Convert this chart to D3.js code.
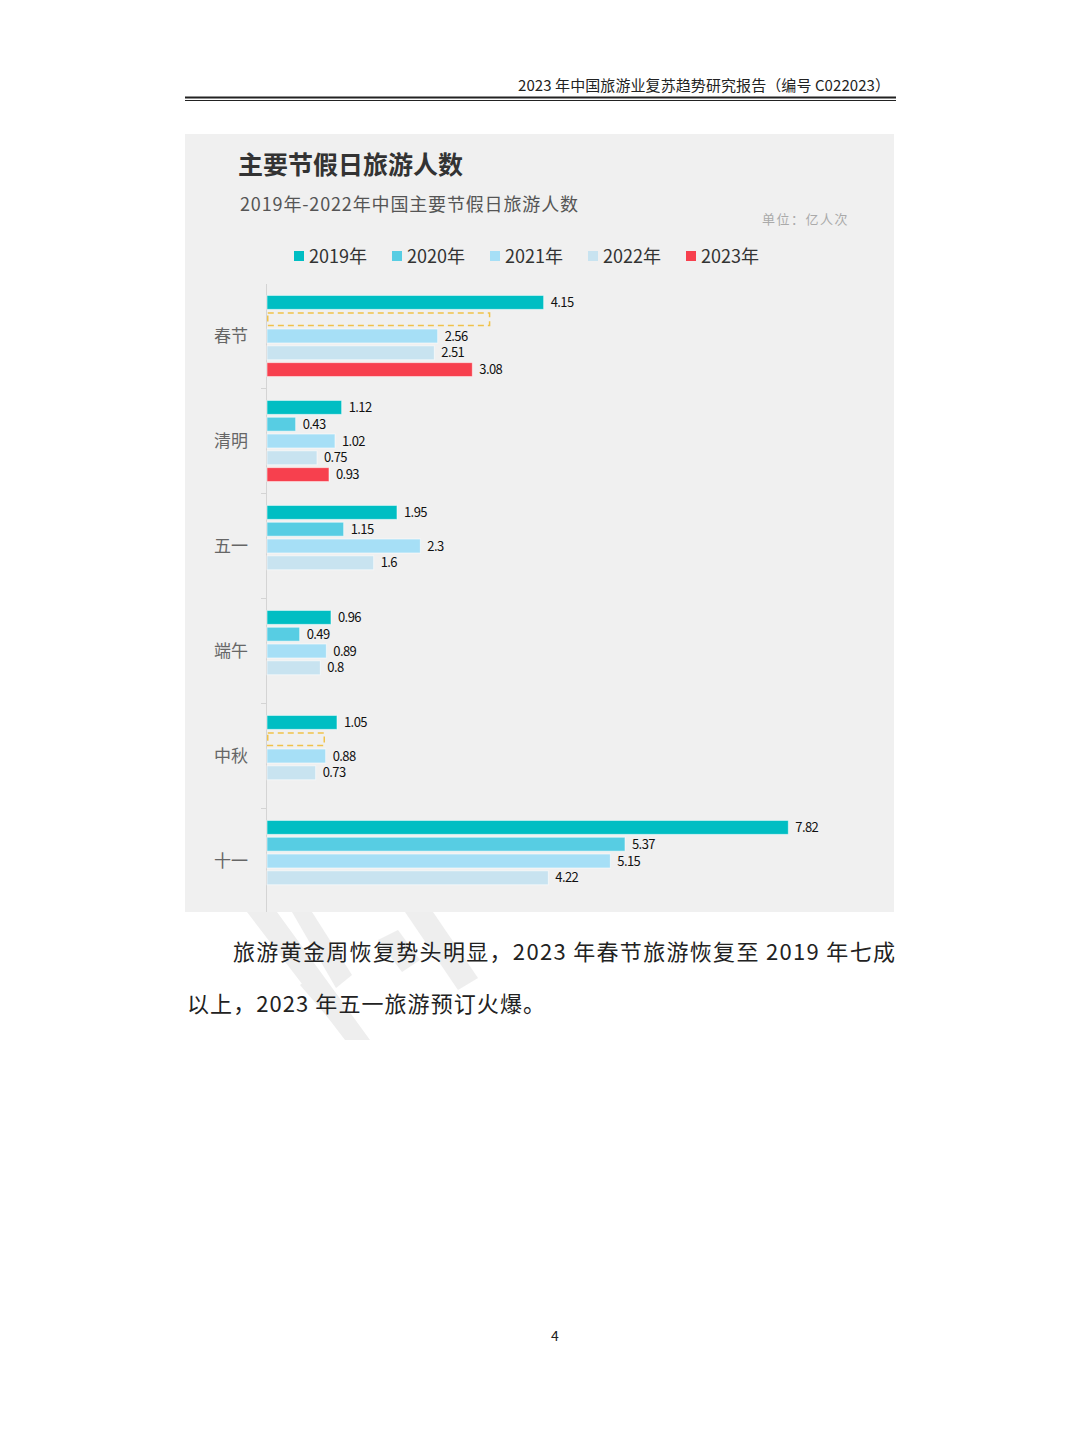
<!DOCTYPE html>
<html>
<head>
<meta charset="utf-8">
<script src="https://cdn.jsdelivr.net/npm/d3@7"></script>
<style>
  body { margin: 0; background: #fff; }
  text { font-family: "Noto Sans CJK SC", "Noto Sans", sans-serif; }
</style>
</head>
<body>
<div id="page"></div>
<script>
// chart data
const categories = ['春节', '清明', '五一', '端午', '中秋', '十一'];
const seriesNames = ['2019年', '2020年', '2021年', '2022年', '2023年'];
const v2019 = [4.15, 1.12, 1.95, 0.96, 1.05, 7.82];
const v2020 = [null, 0.43, 1.15, 0.49, null, 5.37];
const v2021 = [2.56, 1.02, 2.3, 0.89, 0.88, 5.15];
const v2022 = [2.51, 0.75, 1.6, 0.8, 0.73, 4.22];
const v2023 = [3.08, 0.93, null, null, null, null];
// dashed empty boxes drawn where 2020 is missing
const missing2020 = [3.35, null, null, null, 0.87, null];
const colors = ['#00bec3', '#57cde3', '#a6dff6', '#c8e3f0', '#f7404e'];

const allSeries = [v2019, v2020, v2021, v2022, v2023];

const svg = d3.select('#page').append('svg')
  .attr('width', 1080).attr('height', 1440);
svg.append('rect').attr('width', 1080).attr('height', 1440).attr('fill', '#fff');

// page header
svg.append('text')
  .attr('x', 518).attr('y', 91)
  .attr('font-size', 15).attr('fill', '#222')
  .attr('textLength', 372).attr('lengthAdjust', 'spacing')
  .text('2023 年中国旅游业复苏趋势研究报告（编号 C022023）');
svg.append('line').attr('x1', 185).attr('x2', 896).attr('y1', 97.5).attr('y2', 97.5)
  .attr('stroke', '#222').attr('stroke-width', 2);
svg.append('line').attr('x1', 185).attr('x2', 896).attr('y1', 100.5).attr('y2', 100.5)
  .attr('stroke', '#222').attr('stroke-width', 1);

// chart panel
svg.append('rect').attr('x', 185).attr('y', 134).attr('width', 709).attr('height', 778)
  .attr('fill', '#f0f0f0');

svg.append('text')
  .attr('x', 238).attr('y', 174)
  .attr('font-size', 25).attr('font-weight', 'bold').attr('fill', '#333')
  .text('主要节假日旅游人数');
svg.append('text')
  .attr('x', 240).attr('y', 211)
  .attr('font-size', 18).attr('fill', '#555')
  .attr('textLength', 338).attr('lengthAdjust', 'spacing')
  .text('2019年-2022年中国主要节假日旅游人数');
svg.append('text')
  .attr('x', 762).attr('y', 224)
  .attr('font-size', 13).attr('fill', '#aaa').attr('letter-spacing', 1.5)
  .text('单位：亿人次');

// legend
const legendX = d3.scaleLinear().domain([0, 4]).range([294, 686]);
const legend = svg.append('g').selectAll('g')
  .data(seriesNames)
  .enter().append('g')
    .attr('transform', (d, i) => 'translate(' + legendX(i) + ',251)');
legend.append('rect')
  .attr('width', 10).attr('height', 10)
  .attr('fill', (d, i) => colors[i]);
legend.append('text')
  .attr('x', 15).attr('y', 11.5)
  .attr('font-size', 18).attr('fill', '#333')
  .text(d => d);

// scales
const x = d3.scaleLinear().domain([0, 9]).range([267, 867]);
const y = d3.scaleBand().domain(categories).range([283.5, 913.5]).padding(0);
const ySub = d3.scaleBand().domain(d3.range(5)).range([0, y.bandwidth()])
  .paddingInner(0.17).paddingOuter(0.71);

// axis line and boundary ticks
const axis = svg.append('g')
  .attr('transform', 'translate(266,0)')
  .call(d3.axisLeft(y).tickSize(0).tickFormat(''));
axis.select('.domain').attr('stroke', '#d4d4d4');
svg.append('g').selectAll('line')
  .data(categories.slice(1))
  .enter().append('line')
    .attr('x1', 261).attr('x2', 266)
    .attr('y1', d => y(d)).attr('y2', d => y(d))
    .attr('stroke', '#d4d4d4');

// category labels
svg.append('g').selectAll('text')
  .data(categories)
  .enter().append('text')
    .attr('x', 231).attr('y', d => y(d) + y.bandwidth() / 2 + 6)
    .attr('text-anchor', 'middle')
    .attr('font-size', 17).attr('fill', '#666')
    .text(d => d);

// bars
const barData = [];
allSeries.forEach((vals, s) => {
  vals.forEach((v, c) => {
    if (v != null) barData.push({cat: categories[c], s: s, v: v});
  });
});

const bars = svg.append('g');
bars.selectAll('.bar')
  .data(barData)
  .enter().append('rect')
    .attr('class', 'bar')
    .attr('x', x(0))
    .attr('y', d => y(d.cat) + ySub(d.s))
    .attr('width', d => x(d.v) - x(0))
    .attr('height', ySub.bandwidth())
    .attr('fill', d => colors[d.s])
    .attr('stroke', 'rgba(255,255,255,0.55)')
    .attr('stroke-width', 1);

bars.selectAll('.lbl')
  .data(barData)
  .enter().append('text')
    .attr('class', 'lbl')
    .attr('x', d => x(d.v) + 7)
    .attr('y', d => y(d.cat) + ySub(d.s) + ySub.bandwidth() / 2 + 4.5)
    .attr('font-family', '"Liberation Sans Narrow", "DejaVu Sans Condensed", sans-serif')
    .attr('font-size', 13).attr('fill', '#111')
    .attr('letter-spacing', -0.6)
    .text(d => String(d.v));

// dashed placeholders for missing 2020 values
const missData = [];
missing2020.forEach((v, c) => { if (v != null) missData.push({cat: categories[c], v: v}); });
bars.selectAll('.miss')
  .data(missData)
  .enter().append('rect')
    .attr('class', 'miss')
    .attr('x', x(0) + 0.75)
    .attr('y', d => y(d.cat) + ySub(1) + 0.75)
    .attr('width', d => x(d.v) - x(0) - 1.5)
    .attr('height', ySub.bandwidth() - 1.5)
    .attr('fill', 'none')
    .attr('stroke', '#f0c24a')
    .attr('stroke-width', 1.5)
    .attr('stroke-dasharray', '6,4');

// faint watermark below the chart
const wm = svg.append('g').attr('fill', '#eeeeee');
[
  [[247, 912], [277, 912], [370, 1040], [345, 1040]],
  [[292, 912], [312, 912], [352, 975], [336, 988]],
  [[300, 985], [318, 972], [350, 1012], [332, 1022]],
  [[405, 912], [433, 912], [478, 978], [458, 990]],
  [[378, 940], [398, 930], [420, 960], [402, 972]]
].forEach(p => wm.append('polygon').attr('points', p.map(q => q.join(',')).join(' ')));

// body text
svg.append('text')
  .attr('x', 233).attr('y', 960)
  .attr('font-size', 22).attr('fill', '#222')
  .attr('textLength', 662).attr('lengthAdjust', 'spacing')
  .text('旅游黄金周恢复势头明显，2023 年春节旅游恢复至 2019 年七成');
svg.append('text')
  .attr('x', 187).attr('y', 1012)
  .attr('font-size', 22).attr('fill', '#222')
  .attr('textLength', 358).attr('lengthAdjust', 'spacing')
  .text('以上，2023 年五一旅游预订火爆。');

// page number
svg.append('text')
  .attr('x', 555).attr('y', 1341)
  .attr('text-anchor', 'middle')
  .attr('font-size', 14).attr('fill', '#222')
  .text('4');
</script>
</body>
</html>
